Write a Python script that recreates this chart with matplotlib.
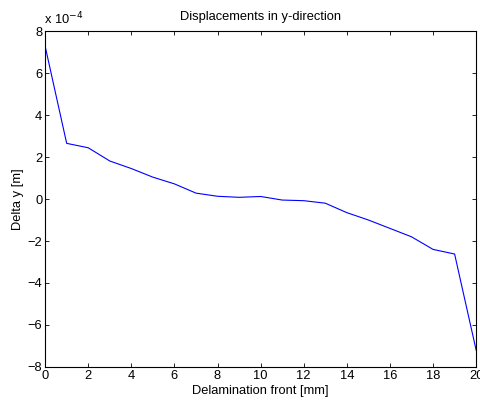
import numpy as np
import matplotlib.pyplot as plt

# delamination front position [mm]
front = [0, 1, 2, 3, 4, 5, 6, 7, 8, 9, 10, 11, 12, 13, 14, 15, 16, 17, 18, 19, 20]
# displacement in y-direction, units of 1e-4 m
delta_y = [7.28, 2.65, 2.44, 1.81, 1.45, 1.04, 0.72, 0.28, 0.13, 0.08, 0.12,
           -0.05, -0.08, -0.2, -0.65, -1.0, -1.4, -1.8, -2.4, -2.62, -7.2]

plt.rcParams['font.family'] = ['Liberation Sans', 'DejaVu Sans']
plt.rcParams['font.size'] = 9.3

fig = plt.figure(figsize=(4.8, 4.08), dpi=100)
ax = fig.add_axes([0.094, 0.1005, 0.898, 0.8235])

ax.plot(front, delta_y, color='#0000ff', linewidth=0.8)

ax.set_xlim(0, 20)
ax.set_ylim(-8, 8)
ax.set_xticks(np.arange(0, 21, 2))
ax.set_yticks(np.arange(-8, 9, 2))
ax.tick_params(direction='in', length=3, width=0.6, top=True, right=True, pad=2)
for s in ax.spines.values():
    s.set_linewidth(0.8)

ax.set_title('Displacements in y-direction', fontsize=9.3, pad=8)
ax.set_xlabel('Delamination front [mm]', labelpad=2.5)
ax.set_ylabel('Delta y [m]', labelpad=2.5)
ax.text(-0.002, 1.012, r'x 10$^{-4}$', transform=ax.transAxes, ha='left', va='bottom')

fig.savefig('out.png', dpi=100)
